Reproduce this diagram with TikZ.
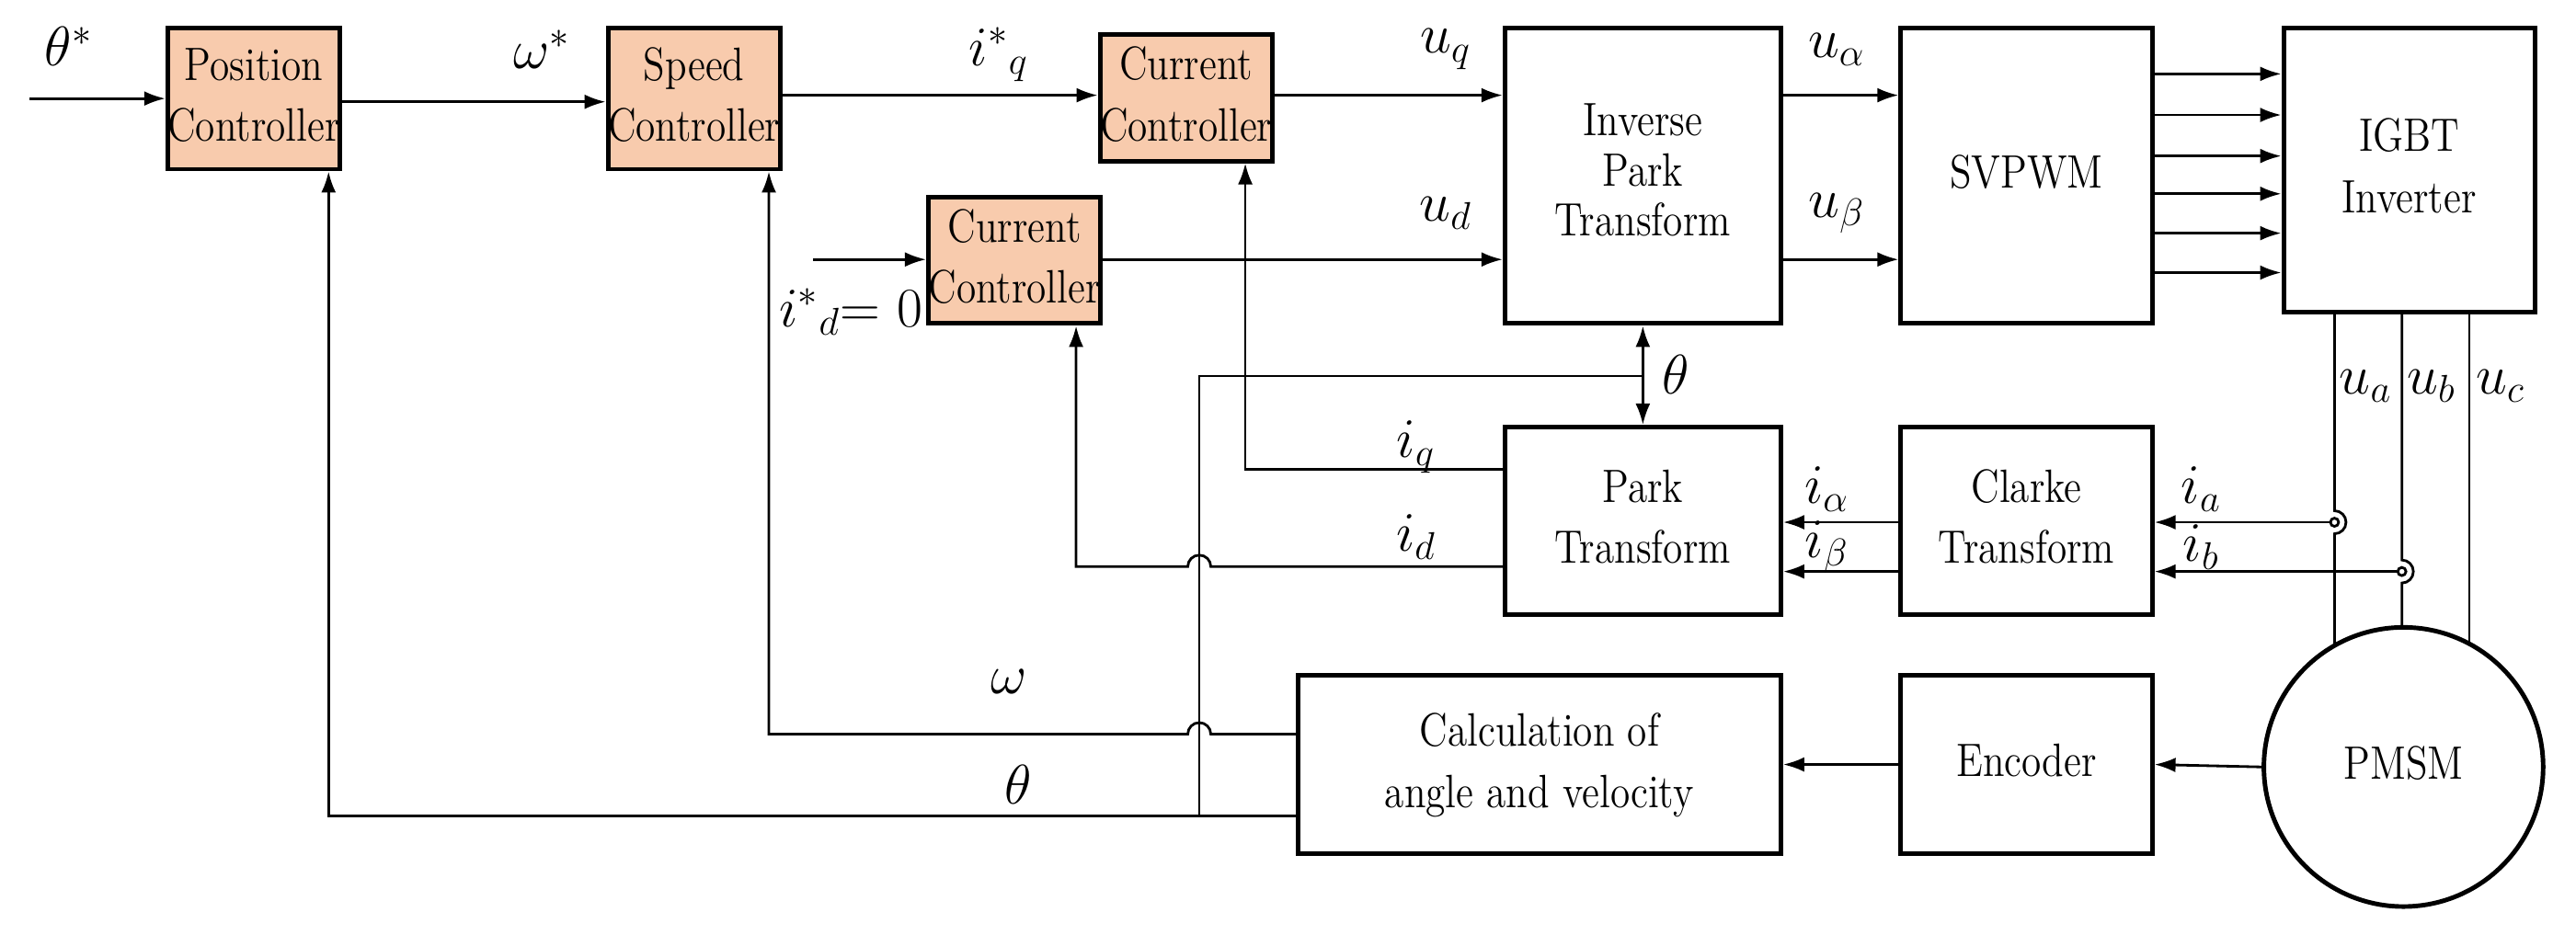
\documentclass[tikz,border=0pt]{standalone}
\usetikzlibrary{arrows.meta}
\definecolor{peach}{HTML}{F8CBAD}
\newcommand{\bt}[1]{\scalebox{0.85}[1]{\def\arraystretch{1}\setlength{\tabcolsep}{0pt}\begin{tabular}{@{}c@{}}#1\end{tabular}}}
\begin{document}
\begin{tikzpicture}[x=0.017864cm,y=-0.017864cm,
  box/.style={draw,line width=1.4pt,inner sep=0pt,align=center,font=\fontsize{14.5}{19}\selectfont},
  ctrl/.style={box,fill=peach},
  ln/.style={line width=0.8pt},
  ar/.style={ln,-{Latex[length=2.3mm,width=1.6mm]}},
  lab/.style={font=\fontsize{17}{17}\selectfont,inner sep=0pt}]
\useasboundingbox (0,0) rectangle (1568,569);
\node[ctrl,minimum width=91*0.017864cm,minimum height=86*0.017864cm] (pc) at (154.5,60) {\bt{Position\\Controller}};
\node[ctrl,minimum width=95*0.017864cm,minimum height=86*0.017864cm] (sc) at (422.5,60) {\bt{Speed\\Controller}};
\node[ctrl,minimum width=96*0.017864cm,minimum height=77*0.017864cm] (ccq) at (722,59.5) {\bt{Current\\Controller}};
\node[ctrl,minimum width=95*0.017864cm,minimum height=77*0.017864cm] (ccd) at (617.5,158.5) {\bt{Current\\Controller}};
\node[box,minimum width=168*0.017864cm,minimum height=180*0.017864cm,font=\fontsize{14.5}{15.5}\selectfont] (ip) at (1000,107) {\bt{Inverse\\Park\\Transform}};
\node[box,minimum width=153*0.017864cm,minimum height=180*0.017864cm] (sv) at (1233.5,107) {\bt{SVPWM}};
\node[box,minimum width=153*0.017864cm,minimum height=173*0.017864cm] (igbt) at (1466.5,103.5) {\bt{IGBT\\Inverter}};
\node[box,minimum width=168*0.017864cm,minimum height=114*0.017864cm] (pk) at (1000,317) {\bt{Park\\Transform}};
\node[box,minimum width=153*0.017864cm,minimum height=114*0.017864cm] (ck) at (1233.5,317) {\bt{Clarke\\Transform}};
\node[box,minimum width=294*0.017864cm,minimum height=109*0.017864cm] (calc) at (937,465.5) {\bt{Calculation of\\angle and velocity}};
\node[box,minimum width=153*0.017864cm,minimum height=109*0.017864cm] (enc) at (1233.5,465.5) {\bt{Encoder}};
\node[draw,circle,line width=1.4pt,minimum size=170*0.017864cm,inner sep=0pt,font=\fontsize{14.5}{19}\selectfont] (pmsm) at (1463,467) {\bt{PMSM}};
% forward path
\coordinate (in) at (18,60);
\draw[ar] (in) -- (pc.west|-in);
\draw[ar] (pc.east|-0,62) -- (sc.west|-0,62);
\draw[ar] (sc.east|-0,58) -- (ccq.west|-0,58);
\draw[ar] (ccq.east|-0,58) -- (ip.west|-0,58);
\coordinate (ind) at (495,158);
\draw[ar] (ind) -- (ccd.west|-ind);
\draw[ar] (ccd.east|-0,158) -- (ip.west|-0,158);
\draw[ar] (ip.east|-0,58) -- (sv.west|-0,58);
\draw[ar] (ip.east|-0,158) -- (sv.west|-0,158);
\foreach \y in {45,70,95,118,142,166} \draw[ar] (sv.east|-0,\y) -- (igbt.west|-0,\y);
% phase lines with hops
\draw[ln] (1421,190) -- (1421,311) arc(-90:90:7) -- (1421,393);
\draw[ln] (1462,190) -- (1462,341) arc(-90:90:7) -- (1462,382);
\draw[ln] (1503,190) -- (1503,392);
\node[draw,circle,ln,inner sep=0pt,minimum size=5*0.017864cm,fill=white] (dia) at (1421,318) {};
\node[draw,circle,ln,inner sep=0pt,minimum size=5*0.017864cm,fill=white] (dib) at (1462,348) {};
\draw[ar] (dia.west) -- (ck.east|-dia);
\draw[ar] (dib.west) -- (ck.east|-dib);
\draw[ar] (ck.west|-0,318) -- (pk.east|-0,318);
\draw[ar] (ck.west|-0,348) -- (pk.east|-0,348);
% theta between IP and Park
\draw[ln,{Latex[length=2.3mm,width=1.6mm]}-{Latex[length=2.3mm,width=1.6mm]}] (ip.south) -- (pk.north);
\draw[ln] (1000,229) -- (730,229) -- (730,497);
% iq, id feedback
\draw[ar] (pk.west|-0,286) -- (758,286) -- (ccq.south-|758,0);
\draw[ar] (pk.west|-0,345) -- (737,345) arc(0:-180:7) -- (655,345) -- (ccd.south-|655,0);
% omega and theta feedback
\draw[ar] (calc.west|-0,447) -- (737,447) arc(0:-180:7) -- (468,447) -- (sc.south-|468,0);
\draw[ar] (calc.west|-0,497) -- (200,497) -- (pc.south-|200,0);
\draw[ar] (enc.west) -- (calc.east);
\draw[ar] (pmsm.west) -- (enc.east);
% labels
\node[lab] at (42,28) {$\theta^*$};
\node[lab] at (330,30) {$\omega^*$};
\node[lab] at (608,33) {$i^*{}_q$};
\node[lab] at (880,30) {$u_q$};
\node[lab] at (880,130) {$u_d$};
\node[lab] at (1118,30) {$u_\alpha$};
\node[lab] at (1118,130) {$u_\beta$};
\node[lab] at (518,190) {$i^*{}_d{=}\ 0$};
\node[lab] at (1020,228) {$\theta$};
\node[lab] at (862,272) {$i_q$};
\node[lab] at (862,327) {$i_d$};
\node[lab] at (1112,298) {$i_\alpha$};
\node[lab] at (1112,333) {$i_\beta$};
\node[lab] at (1340,298) {$i_a$};
\node[lab] at (1340,333) {$i_b$};
\node[lab] at (1440,235) {$u_a$};
\node[lab] at (1480,235) {$u_b$};
\node[lab] at (1522,235) {$u_c$};
\node[lab] at (614,415) {$\omega$};
\node[lab] at (620,478) {$\theta$};
\end{tikzpicture}
\end{document}
